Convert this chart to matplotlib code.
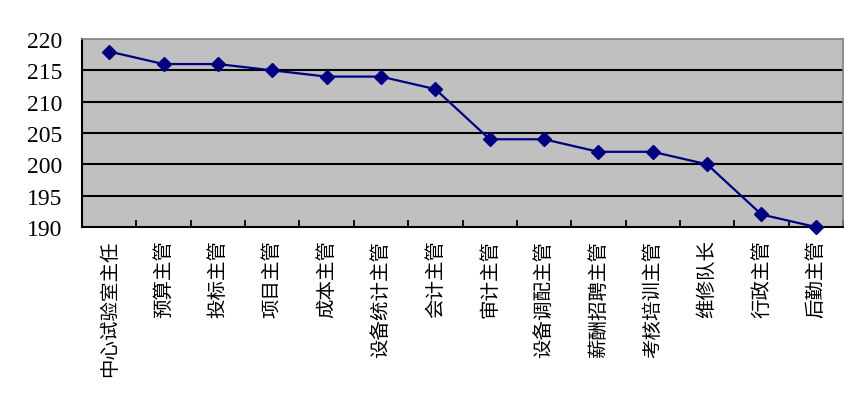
import matplotlib.pyplot as plt
import numpy as np

positions = ["中心试验室主任", "预算主管", "投标主管", "项目主管", "成本主管",
             "设备统计主管", "会计主管", "审计主管", "设备调配主管", "薪酬招聘主管",
             "考核培训主管", "维修队长", "行政主管", "后勤主管"]
scores = [218, 216, 216, 215, 214, 214, 212, 204, 204, 202, 202, 200, 192, 190]
yticks = [190, 195, 200, 205, 210, 215, 220]

fig = plt.figure(figsize=(8.67, 4.06), dpi=100)
ax = fig.add_axes([82 / 867, 1 - 228 / 406, (843 - 82) / 867, (228 - 40) / 406])
ax.set_facecolor("#C0C0C0")

x = np.arange(len(positions))
ax.plot(x, scores, color="#000080", lw=1.6, marker="D", markersize=7,
        markerfacecolor="#000080", markeredgecolor="#000080", zorder=3, clip_on=False)

ax.set_xlim(-0.5, len(positions) - 0.5)
ax.set_ylim(190, 220)
ax.set_yticks(yticks)
ax.set_yticklabels([str(v) for v in yticks], family="Liberation Serif", fontsize=17)
for v in yticks[1:-1]:
    ax.axhline(v, color="black", lw=1.5, zorder=1)

# category labels sit at centres, tick marks sit on boundaries
ax.set_xticks(x)
ax.set_xticklabels(positions, rotation=90, family="Noto Sans CJK SC", fontsize=14,
                   va="top", ha="center")
ax.tick_params(axis="x", which="major", length=0, pad=9)
ax.set_xticks(np.arange(len(positions) + 1) - 0.5, minor=True)
ax.tick_params(axis="x", which="minor", direction="in", length=5, width=1.3, color="black")
ax.tick_params(axis="y", length=0, pad=14)

for side in ["left", "bottom"]:
    ax.spines[side].set_color("black")
    ax.spines[side].set_linewidth(1.5)
for side in ["top", "right"]:
    ax.spines[side].set_color("#808080")
    ax.spines[side].set_linewidth(1.2)

fig.savefig("out.png", dpi=100)
